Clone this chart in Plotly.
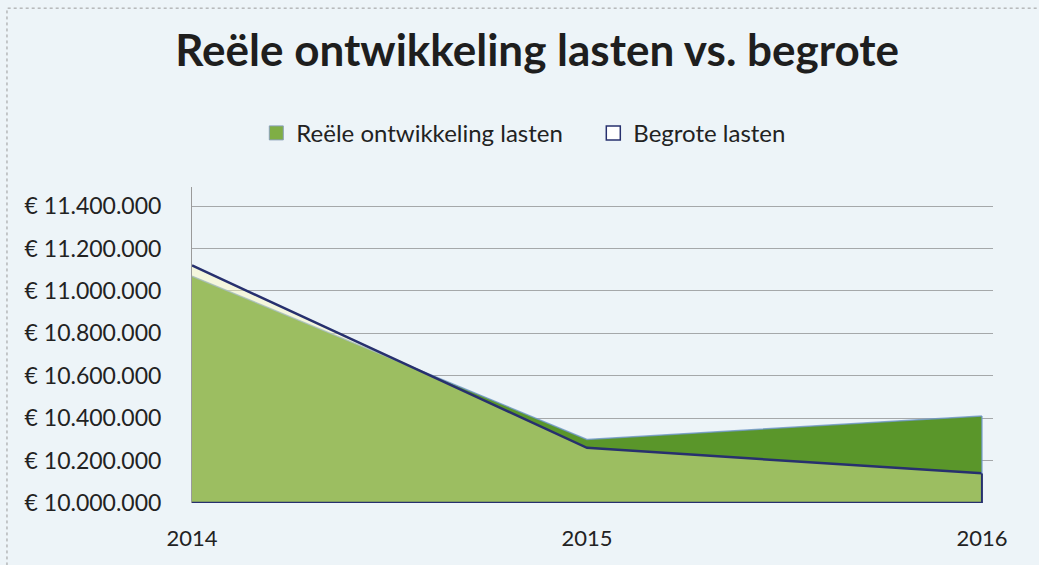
import plotly.graph_objects as go

years = [2014, 2015, 2016]
reele = [11070000, 10300000, 10410000]
begrote = [11120000, 10260000, 10140000]
ytick_vals = [10000000, 10200000, 10400000, 10600000, 10800000, 11000000, 11200000, 11400000]

title_text = "Reële ontwikkeling lasten vs. begrote"
name_reele = "Reële ontwikkeling lasten"
name_begrote = "Begrote lasten"

BG = "#edf4f8"
NAVY = "#27306e"
DARK_GREEN = "#5a962a"
EDGE = "rgba(110,150,200,0.8)"
FONT = "Lato"

y_min, y_max = 10000000, 11490000


def euro(v):
    return "€ " + f"{v:,d}".replace(",", ".")


fig = go.Figure()
fig.add_trace(go.Scatter(
    x=years, y=reele, name=name_reele, mode="lines",
    fill="tozeroy", fillcolor=DARK_GREEN,
    line=dict(color=EDGE, width=1.5), showlegend=False,
))
fig.add_trace(go.Scatter(
    x=years, y=begrote, name=name_begrote, mode="lines",
    fill="tozeroy", fillcolor="rgba(255,250,180,0.40)",
    line=dict(color=NAVY, width=2.5), showlegend=False,
))
# legend entries (square swatches)
fig.add_trace(go.Scatter(
    x=[None], y=[None], name=name_reele, mode="markers",
    marker=dict(symbol="square", size=14, color="#7fae45",
                line=dict(color="#8aa0b8", width=1)),
))
fig.add_trace(go.Scatter(
    x=[None], y=[None], name=name_begrote, mode="markers",
    marker=dict(symbol="square", size=14, color="#ffffff",
                line=dict(color=NAVY, width=1.5)),
))

fig.add_shape(type="line", xref="x", yref="y",
              x0=years[-1], x1=years[-1], y0=y_min, y1=begrote[-1],
              line=dict(color=NAVY, width=2))
fig.add_shape(type="line", xref="x", yref="y",
              x0=years[-1], x1=years[-1], y0=begrote[-1], y1=reele[-1],
              line=dict(color=EDGE, width=1.5))
fig.add_shape(type="line", xref="x", yref="y",
              x0=years[0], x1=years[-1], y0=y_min, y1=y_min,
              line=dict(color=NAVY, width=2.5))
# chart frame
fig.add_shape(type="rect", xref="paper", yref="paper",
              x0=-0.231, x1=1.2, y0=-0.4, y1=1.566,
              line=dict(color="#9a9a9a", width=1, dash="dot"), layer="below")

fig.update_layout(
    width=1039, height=565,
    paper_bgcolor=BG, plot_bgcolor=BG,
    margin=dict(l=192, r=46, t=187, b=62),
    font=dict(family=FONT, color="#222222"),
    title=dict(text="<b>" + title_text + "</b>", x=0.517, xanchor="center",
               y=0.91, yanchor="middle",
               font=dict(family=FONT, size=44, color="#1e1e1e")),
    legend=dict(orientation="h", x=0.501, xanchor="center", y=1.17, yanchor="middle",
                font=dict(family=FONT, size=24, color="#222222"),
                bgcolor="rgba(0,0,0,0)", traceorder="normal", itemwidth=30,
                entrywidth=292),
    showlegend=True,
)
fig.update_xaxes(
    range=[years[0], years[-1] + 0.028], tickvals=years, ticktext=[str(y) for y in years],
    showgrid=False, zeroline=False, showline=False,
    tickfont=dict(family=FONT, size=22, color="#222222"), ticks="", ticklabelstandoff=20,
)
fig.update_yaxes(
    range=[y_min, y_max], tickvals=ytick_vals, ticktext=[euro(v) for v in ytick_vals],
    showgrid=True, gridcolor="#a5a8aa", gridwidth=1,
    zeroline=False, showline=True, linecolor="#9a9a9a", linewidth=1,
    tickfont=dict(family=FONT, size=23, color="#222222"), ticks="", ticklabelstandoff=25,
)

fig.write_html("out.html", config={"displayModeBar": False},
               post_script="document.body.style.margin='0';document.body.style.background='" + BG + "';")
